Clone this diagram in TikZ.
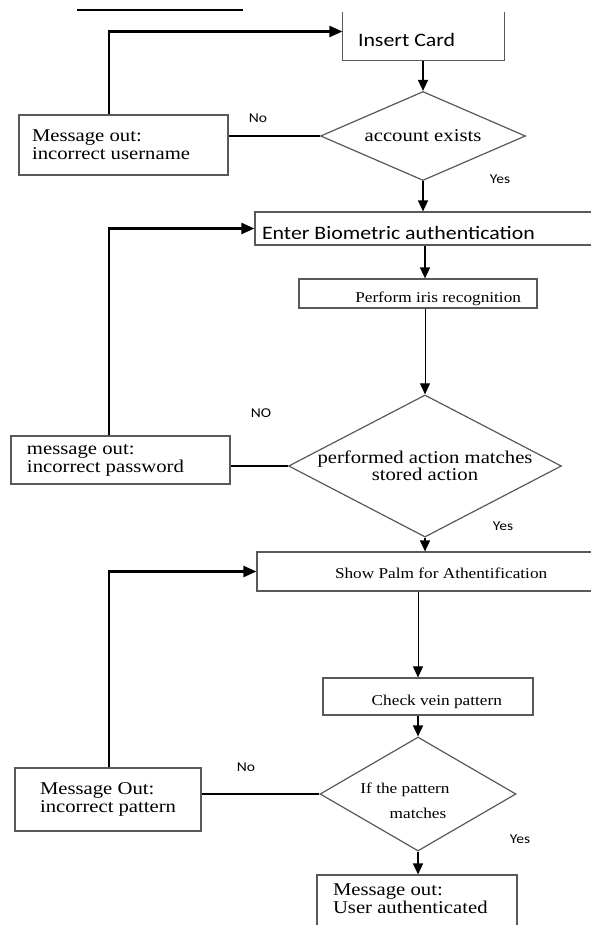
\documentclass[tikz,border=0pt]{standalone}
\usepackage{fontspec}
\setmainfont{Liberation Serif}[FakeStretch=1.15]
\newfontfamily\calibri{Carlito}[FakeStretch=1.15]
\usetikzlibrary{shapes,arrows.meta,positioning}

\begin{document}
\begin{tikzpicture}[x=1pt,y=-1pt]
	\tikzstyle{Box}      = [draw=black!65, line width=1.2pt, inner ysep=0pt]
	\tikzstyle{Process}  = [Box, font=\fontsize{15}{17}\selectfont]
	\tikzstyle{Message}  = [Box, font=\fontsize{18}{18}\selectfont]
	\tikzstyle{Decision} = [diamond, draw=black!65, line width=1.2pt, inner sep=0pt, align=center]
	\tikzstyle{Tag}      = [font=\calibri\fontsize{13.5}{15}\selectfont]
	\tikzstyle{Flow}     = [line width=1.6pt, -{Triangle[length=11pt,width=10pt]}]
	\tikzstyle{FlowThin} = [line width=1pt, -{Triangle[length=11pt,width=10pt]}]
	\tikzstyle{Back}     = [line width=2.4pt, -{Triangle[length=13pt,width=11pt]}]
	\tikzstyle{Join}     = [line width=1.3pt]

	\path [use as bounding box, fill=white] (0,0) rectangle (590,925);

	\coordinate (r1) at (77,10);
	\coordinate (r2) at (243,10);
	\draw [line width=1.3pt] (r1) -- (r2);

	% main column
	\node (ic) at (423.5,36.5) [Box, draw=none, minimum width=161pt, minimum height=47pt, inner xsep=15pt, font=\calibri\fontsize{19}{21}\selectfont] {\makebox[131pt][l]{\raisebox{-3pt}[\height][\depth]{Insert Card}}};
	\draw [black!65, line width=1.2pt] (ic.north west) -- (ic.south west) -- (ic.south east) -- (ic.north east);
	\node (d1) at (423,136) [Decision, aspect=2.3, minimum width=205pt, minimum height=89pt, font=\fontsize{18}{16}\selectfont] {account exists};
	\node (eb) at (427.5,228.5) [Box, minimum width=345pt, minimum height=33pt, inner xsep=7pt, font=\calibri\fontsize{19}{21}\selectfont] {\makebox[331pt][l]{\raisebox{-4pt}[\height][\depth]{Enter Biometric authentication}}};
	\node (pi) at (418,293.5) [Process, minimum width=238pt, minimum height=29pt, inner xsep=16pt] {\makebox[206pt][r]{\raisebox{-5.5pt}[\height][\depth]{Perform iris recognition}}};
	\node (d2) at (425,466) [Decision, aspect=1.92, minimum width=263pt, minimum height=137pt, font=\fontsize{18}{16}\selectfont] {performed action matches\\stored action};
	\node (sp) at (445,571.5) [Process, minimum width=376pt, minimum height=39pt, inner xsep=78pt] {\makebox[220pt][l]{\raisebox{-2pt}[\height][\depth]{Show Palm for Athentification}}};
	\node (cv) at (428,696.5) [Process, minimum width=210pt, minimum height=37pt, inner xsep=31pt] {\makebox[148pt][r]{\raisebox{-5pt}[\height][\depth]{Check vein pattern}}};
	\node (d3) at (418,794) [Decision, aspect=1.72, minimum width=196pt, minimum height=114pt] {};
	\node (d3txt) at ([yshift=-7pt]d3.center) [align=center, font=\fontsize{15}{18}\selectfont] {\hspace*{-26pt}If the pattern\\[7pt]matches};
	\node (ua) at (417,907.5) [Message, minimum width=200pt, minimum height=65pt, inner xsep=16pt] {\raisebox{8.5pt}[\height][\depth]{\parbox{168pt}{Message out:\\User authenticated}}};

	% messages
	\node (m1) at (123.5,145) [Message, minimum width=209pt, minimum height=60pt, inner xsep=13pt] {\parbox{183pt}{Message out:\\incorrect username}};
	\node (m2) at (120.5,460) [Message, minimum width=219pt, minimum height=48pt, inner xsep=16pt] {\parbox{187pt}{message out:\\incorrect password}};
	\node (m3) at (108,799.5) [Message, minimum width=186pt, minimum height=63pt, inner xsep=25pt] {\parbox{136pt}{Message Out:\\incorrect pattern}};

	% labels
	\node (no1)  at (258,118) [Tag] {No};
	\node (yes1) at (500,179) [Tag] {Yes};
	\node (no2)  at (261,413) [Tag] {NO};
	\node (yes2) at (503,526) [Tag] {Yes};
	\node (no3)  at (246,767) [Tag] {No};
	\node (yes3) at (520,839) [Tag] {Yes};

	% flow
	\draw [Flow] (ic.south -| d1.north) -- (d1.north);
	\draw [Flow] (d1.south) -- (eb.north -| d1.south);
	\draw [Flow] (eb.south -| d2.north) -- (pi.north -| d2.north);
	\draw [FlowThin] (pi.south -| d2.north) -- (d2.north);
	\draw [Flow] (d2.south) -- (sp.north -| d2.south);
	\draw [FlowThin] (sp.south -| d3.north) -- (cv.north -| d3.north);
	\draw [Flow] (cv.south -| d3.north) -- (d3.north);
	\draw [Flow] (d3.south) -- (ua.north -| d3.south);

	% no branches
	\draw [Join] (m1.east |- d1.west) -- (d1.west);
	\draw [Join] (m2.east |- d2.west) -- (d2.west);
	\draw [Join] (m3.east |- d3.west) -- (d3.west);
	\draw [Back] ([xshift=-14.5pt]m1.north) |- ([yshift=5pt]ic.west);
	\draw [Back] ([xshift=-11.5pt]m2.north) |- (eb.west);
	\draw [Back] ([xshift=1pt]m3.north) |- (sp.west);
\end{tikzpicture}
\end{document}
